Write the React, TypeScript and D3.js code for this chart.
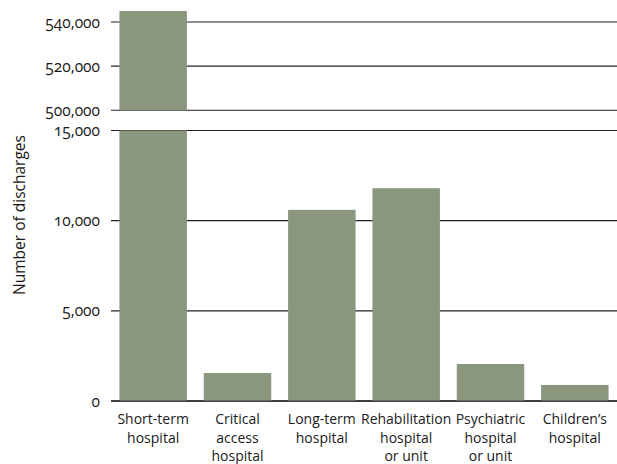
import React from "react";
import * as d3 from "d3";

const categories: string[][] = [
  ["Short-term", "hospital"],
  ["Critical", "access", "hospital"],
  ["Long-term", "hospital"],
  ["Rehabilitation", "hospital", "or unit"],
  ["Psychiatric", "hospital", "or unit"],
  ["Children\u2019s", "hospital"],
];
const discharges: number[] = [545000, 1550, 10600, 11800, 2050, 890];
const upperTicks: number[] = [500000, 520000, 540000];
const lowerTicks: number[] = [0, 5000, 10000, 15000];
const yTitle = "Number of discharges";

const W = 617;
const H = 464;
const FONT = "'Open Sans', sans-serif";
const BAR = "#8a967e";
const INK = "#1a1a1a";

export default function App() {
  const x = d3
    .scaleBand<number>()
    .domain(d3.range(categories.length))
    .range([111, 617])
    .paddingInner(0.2)
    .paddingOuter(0.1);

  const yLow = d3.scaleLinear().domain([0, 15000]).range([401, 130.5]);
  const yHigh = d3.scaleLinear().domain([500000, 540000]).range([110.3, 22]);
  const fmt = d3.format(",");
  const lowMax = 15000;
  const highMin = 500000;

  const tickLabel = (t: number, y: number) => (
    <text
      x={100}
      y={y}
      dy="0.36em"
      textAnchor="end"
      fontSize={15.5}
      fill={INK}
      style={{ fontVariantNumeric: "oldstyle-nums" }}
    >
      {fmt(t)}
    </text>
  );

  return (
    <svg
      width={W}
      height={H}
      style={{ position: "absolute", left: 0, top: 0, background: "#fff" }}
      fontFamily={FONT}
    >
      {upperTicks.map((t) => (
        <g key={"u" + t}>
          <line x1={111} x2={W} y1={yHigh(t)} y2={yHigh(t)} stroke="#222" strokeWidth={1.1} />
          {tickLabel(t, yHigh(t))}
        </g>
      ))}
      {lowerTicks.map((t) => (
        <g key={"l" + t}>
          <line
            x1={111}
            x2={W}
            y1={yLow(t)}
            y2={yLow(t)}
            stroke={t === 0 ? "#000" : "#222"}
            strokeWidth={t === 0 ? 1.5 : 1.1}
          />
          {tickLabel(t, yLow(t))}
        </g>
      ))}

      {discharges.map((v, i) => (
        <g key={"b" + i}>
          <rect
            x={x(i)!}
            width={x.bandwidth()}
            y={yLow(Math.min(v, lowMax))}
            height={yLow(0) - yLow(Math.min(v, lowMax)) - 0.5}
            fill={BAR}
          />
          {v > highMin && (
            <rect
              x={x(i)!}
              width={x.bandwidth()}
              y={yHigh(v)}
              height={yHigh(highMin) - yHigh(v)}
              fill={BAR}
            />
          )}
        </g>
      ))}

      {categories.map((lines, i) => (
        <text
          key={"c" + i}
          x={x(i)! + x.bandwidth() / 2}
          y={424}
          textAnchor="middle"
          fontSize={14}
          fill={INK}
        >
          {lines.map((l, j) => (
            <tspan key={j} x={x(i)! + x.bandwidth() / 2} dy={j === 0 ? 0 : 18.7}>
              {l}
            </tspan>
          ))}
        </text>
      ))}

      <text
        transform={`translate(24.5,${215}) rotate(-90)`}
        textAnchor="middle"
        fontSize={15.5}
        fill={INK}
      >
        {yTitle}
      </text>
    </svg>
  );
}
